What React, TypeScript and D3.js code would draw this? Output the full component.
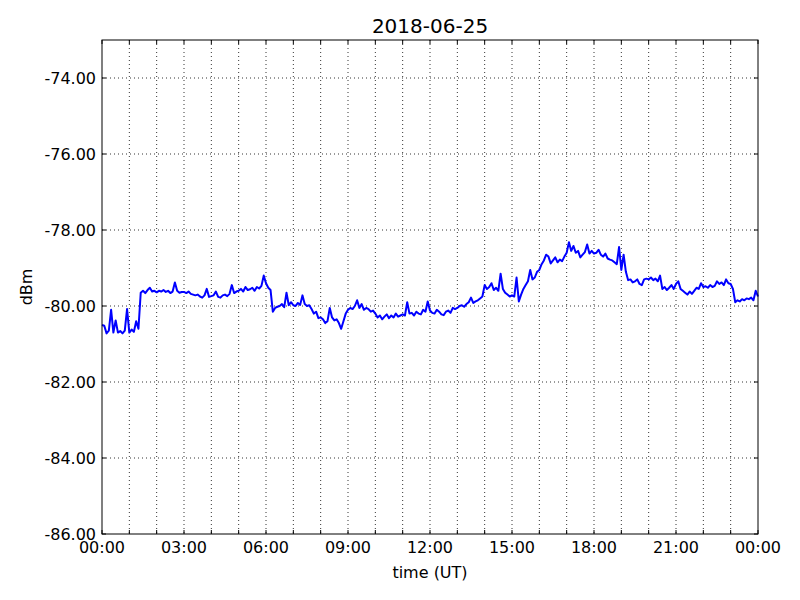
import React, { useEffect, useRef } from "react";
import * as d3 from "d3";

// 5-minute samples, one row per hour (dBm)
const hour00 = [-80.5, -80.52, -80.72, -80.65, -80.1, -80.7, -80.38, -80.7, -80.66, -80.72, -80.65, -80.08];
const hour01 = [-80.7, -80.62, -80.68, -80.4, -80.6, -79.65, -79.6, -79.66, -79.58, -79.52, -79.62, -79.6];
const hour02 = [-79.64, -79.6, -79.62, -79.58, -79.63, -79.6, -79.66, -79.62, -79.38, -79.6, -79.65, -79.63];
const hour03 = [-79.63, -79.66, -79.62, -79.68, -79.7, -79.72, -79.7, -79.75, -79.78, -79.72, -79.55, -79.76];
const hour04 = [-79.74, -79.72, -79.62, -79.76, -79.78, -79.72, -79.7, -79.74, -79.68, -79.45, -79.66, -79.62];
const hour05 = [-79.6, -79.55, -79.62, -79.5, -79.58, -79.56, -79.52, -79.6, -79.5, -79.54, -79.47, -79.2];
const hour06 = [-79.4, -79.52, -79.58, -80.15, -80.05, -80.02, -80.0, -79.95, -80.03, -79.65, -79.98, -79.9];
const hour07 = [-79.98, -80.0, -79.92, -79.97, -79.72, -79.95, -80.0, -79.98, -80.08, -80.2, -80.15, -80.32];
const hour08 = [-80.3, -80.35, -80.45, -80.4, -80.05, -80.3, -80.38, -80.35, -80.45, -80.6, -80.4, -80.2];
const hour09 = [-80.1, -80.05, -80.08, -80.0, -79.85, -80.05, -79.95, -80.1, -80.05, -80.08, -80.15, -80.12];
const hour10 = [-80.2, -80.3, -80.25, -80.35, -80.28, -80.22, -80.32, -80.25, -80.3, -80.2, -80.28, -80.25];
const hour11 = [-80.22, -80.25, -79.9, -80.2, -80.18, -80.25, -80.15, -80.2, -80.22, -80.1, -80.15, -79.88];
const hour12 = [-80.12, -80.18, -80.2, -80.1, -80.15, -80.22, -80.24, -80.15, -80.12, -80.18, -80.05, -80.08];
const hour13 = [-80.05, -80.0, -79.98, -80.02, -79.95, -79.9, -79.78, -79.92, -79.88, -79.85, -79.8, -79.75];
const hour14 = [-79.45, -79.55, -79.5, -79.4, -79.58, -79.52, -79.6, -79.15, -79.55, -79.65, -79.7, -79.75];
const hour15 = [-79.72, -79.75, -79.25, -79.88, -79.7, -79.55, -79.45, -79.35, -79.05, -79.3, -79.25, -79.1];
const hour16 = [-79.05, -78.9, -78.8, -78.65, -78.7, -78.88, -78.8, -78.72, -78.85, -78.78, -78.82, -78.7];
const hour17 = [-78.6, -78.32, -78.55, -78.42, -78.6, -78.55, -78.72, -78.65, -78.58, -78.38, -78.62, -78.55];
const hour18 = [-78.62, -78.6, -78.52, -78.65, -78.7, -78.62, -78.75, -78.78, -78.8, -78.85, -78.9, -78.45];
const hour19 = [-79.05, -78.65, -79.1, -79.32, -79.3, -79.38, -79.35, -79.3, -79.42, -79.45, -79.3, -79.28];
const hour20 = [-79.3, -79.25, -79.32, -79.28, -79.35, -79.2, -79.55, -79.5, -79.58, -79.52, -79.45, -79.55];
const hour21 = [-79.42, -79.35, -79.55, -79.6, -79.65, -79.7, -79.62, -79.68, -79.6, -79.52, -79.55, -79.4];
const hour22 = [-79.5, -79.48, -79.52, -79.45, -79.5, -79.47, -79.35, -79.42, -79.38, -79.45, -79.3, -79.4];
const hour23 = [-79.42, -79.55, -79.9, -79.85, -79.88, -79.82, -79.85, -79.8, -79.82, -79.78, -79.85, -79.6];
const endValue = [-79.75];

const hours = [
  hour00, hour01, hour02, hour03, hour04, hour05, hour06, hour07,
  hour08, hour09, hour10, hour11, hour12, hour13, hour14, hour15,
  hour16, hour17, hour18, hour19, hour20, hour21, hour22, hour23, endValue,
];

const yTicks = [-86, -84, -82, -80, -78, -76, -74];
const xLabelHours = [0, 3, 6, 9, 12, 15, 18, 21, 24];
const xGridHours = d3.range(0, 25);
const title = "2018-06-25";
const xLabel = "time (UT)";
const yLabel = "dBm";

const W = 800;
const H = 600;
const m = { left: 102, right: 42, top: 40, bottom: 66 };
const FONT = "DejaVu Sans, sans-serif";

export default function App() {
  const ref = useRef<SVGSVGElement>(null);

  useEffect(() => {
    const svg = d3.select(ref.current);
    svg.selectAll("*").remove();

    const data: { t: number; v: number }[] = [];
    hours.forEach((arr, h) => {
      arr.forEach((v, i) => data.push({ t: h + i / 12, v }));
    });

    const x = d3.scaleLinear().domain([0, 24]).range([m.left, W - m.right]);
    const y = d3.scaleLinear().domain([-86, -73]).range([H - m.bottom, m.top]);

    svg.append("rect").attr("width", W).attr("height", H).attr("fill", "white");

    const g = svg.append("g");
    // grid
    g.selectAll("line.vg")
      .data(xGridHours.filter((h) => h > 0 && h < 24))
      .join("line")
      .attr("x1", (d) => x(d)).attr("x2", (d) => x(d))
      .attr("y1", y(-73)).attr("y2", y(-86))
      .attr("stroke", "black").attr("stroke-width", 0.8)
      .attr("stroke-dasharray", "1,3");
    g.selectAll("line.hg")
      .data(yTicks.filter((v) => v > -86))
      .join("line")
      .attr("x1", x(0)).attr("x2", x(24))
      .attr("y1", (d) => y(d)).attr("y2", (d) => y(d))
      .attr("stroke", "black").attr("stroke-width", 0.8)
      .attr("stroke-dasharray", "1,3");

    // line
    const line = d3.line<{ t: number; v: number }>()
      .x((d) => x(d.t))
      .y((d) => y(d.v));
    g.append("path")
      .datum(data)
      .attr("d", line)
      .attr("fill", "none")
      .attr("stroke", "#0000ff")
      .attr("stroke-width", 2)
      .attr("stroke-linejoin", "round");

    // ticks inside, all sides
    const tl = 4;
    xGridHours.forEach((h) => {
      g.append("line").attr("x1", x(h)).attr("x2", x(h)).attr("y1", y(-86)).attr("y2", y(-86) - tl).attr("stroke", "black");
      g.append("line").attr("x1", x(h)).attr("x2", x(h)).attr("y1", y(-73)).attr("y2", y(-73) + tl).attr("stroke", "black");
    });
    yTicks.forEach((v) => {
      g.append("line").attr("x1", x(0)).attr("x2", x(0) + tl).attr("y1", y(v)).attr("y2", y(v)).attr("stroke", "black");
      g.append("line").attr("x1", x(24)).attr("x2", x(24) - tl).attr("y1", y(v)).attr("y2", y(v)).attr("stroke", "black");
    });

    // frame
    g.append("rect")
      .attr("x", x(0)).attr("y", y(-73))
      .attr("width", x(24) - x(0)).attr("height", y(-86) - y(-73))
      .attr("fill", "none").attr("stroke", "black").attr("stroke-width", 1);

    // tick labels
    g.selectAll("text.yt")
      .data(yTicks)
      .join("text")
      .attr("x", x(0) - 6)
      .attr("y", (d) => y(d))
      .attr("dy", "0.36em")
      .attr("text-anchor", "end")
      .attr("font-family", FONT)
      .attr("font-size", 16)
      .text((d) => d.toFixed(2));

    g.selectAll("text.xt")
      .data(xLabelHours)
      .join("text")
      .attr("x", (d) => x(d))
      .attr("y", y(-86) + 19)
      .attr("text-anchor", "middle")
      .attr("font-family", FONT)
      .attr("font-size", 16)
      .text((d) => String(d % 24).padStart(2, "0") + ":00");

    svg.append("text")
      .attr("x", (x(0) + x(24)) / 2).attr("y", 33)
      .attr("text-anchor", "middle")
      .attr("font-family", FONT).attr("font-size", 20)
      .text(title);
    svg.append("text")
      .attr("x", (x(0) + x(24)) / 2).attr("y", 578)
      .attr("text-anchor", "middle")
      .attr("font-family", FONT).attr("font-size", 16)
      .text(xLabel);
    svg.append("text")
      .attr("transform", `translate(32,${(y(-73) + y(-86)) / 2}) rotate(-90)`)
      .attr("text-anchor", "middle")
      .attr("font-family", FONT).attr("font-size", 16)
      .text(yLabel);
  }, []);

  return (
    <svg ref={ref} width={W} height={H} style={{ position: "absolute", left: 0, top: 0 }} />
  );
}
